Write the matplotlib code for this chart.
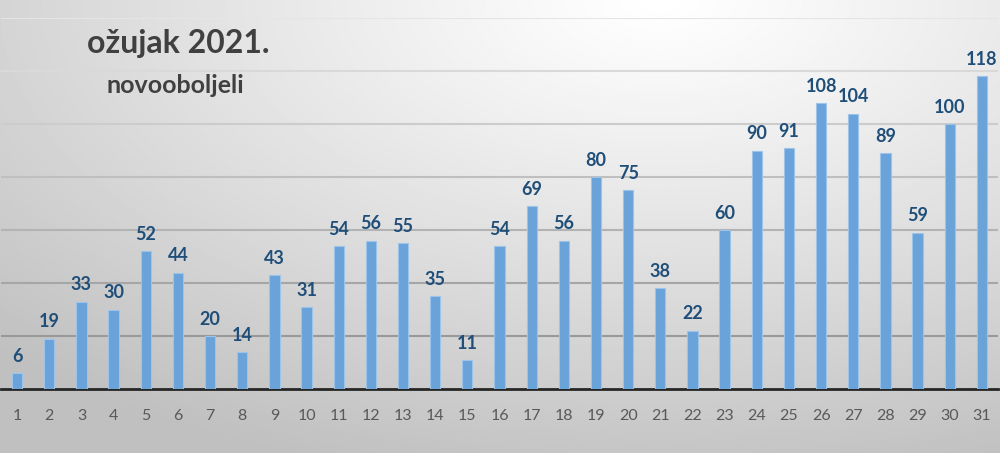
import numpy as np
import matplotlib
matplotlib.use("Agg")
import matplotlib.pyplot as plt

days = [str(d) for d in range(1, 32)]
new_cases = [6, 19, 33, 30, 52, 44, 20, 14, 43, 31, 54, 56, 55, 35, 11, 54,
             69, 56, 80, 75, 38, 22, 60, 90, 91, 108, 104, 89, 59, 100, 118]
grid_levels = [20, 40, 60, 80, 100, 120, 140]
title = "ožujak 2021."
subtitle = "novooboljeli"

BAR_COLOR = "#6aa3da"
BAR_EDGE = "#9cc4ea"
LABEL_COLOR = "#1f4e79"
TICK_COLOR = "#595959"

plt.rcParams["font.family"] = ["Lato", "DejaVu Sans"]

fig = plt.figure(figsize=(10, 4.53), dpi=100)

# background: light spot near top, gray toward the corners/bottom
bg = fig.add_axes([0, 0, 1, 1], zorder=0)
yy, xx = np.mgrid[0:1:300j, 0:1:600j]
dist = np.sqrt(((xx - 0.66) / 0.95) ** 2 + ((yy - 0.0) / 1.1) ** 2)
shade = 1.0 - 0.25 * np.clip(dist, 0, 1) ** 1.1
bg.imshow(shade, cmap="gray", vmin=0, vmax=1, aspect="auto",
          extent=[0, 1, 1, 0], interpolation="bilinear")
bg.axis("off")

ax = fig.add_axes([0.001, 0.141, 0.997, 0.819], zorder=1)
ax.patch.set_alpha(0)
x = np.arange(len(days))
ax.bar(x, new_cases, width=0.32, color=BAR_COLOR, edgecolor=BAR_EDGE,
       linewidth=0.8, zorder=3)
for xi, v in zip(x, new_cases):
    ax.annotate(str(v), (xi, v), xytext=(0, 6), textcoords="offset points",
                ha="center", va="bottom", fontsize=13, fontweight="bold",
                color=LABEL_COLOR, zorder=4, annotation_clip=False)

# gridlines fade out toward the bright top of the chart
for lvl in grid_levels:
    g = 0.60 + 0.30 * (lvl - 20) / 120
    ax.axhline(lvl, color=(g, g, g), linewidth=1.5, zorder=1)

ax.set_xlim(-0.5, len(days) - 0.5)
ax.set_ylim(0, 140)
ax.set_yticks([])
ax.set_xticks(x)
ax.set_xticklabels(days, fontsize=11.5, color=TICK_COLOR)
ax.tick_params(axis="x", length=0, pad=14)
for side in ("top", "right", "left"):
    ax.spines[side].set_visible(False)
ax.spines["bottom"].set_color("#262626")
ax.spines["bottom"].set_linewidth(2)

fig.text(0.178, 0.905, title, ha="center", va="center", fontsize=23,
         fontweight="bold", color="#404040")
fig.text(0.175, 0.812, subtitle, ha="center", va="center", fontsize=18,
         fontweight="bold", color="#404040")

fig.savefig("out.png", dpi=100)
